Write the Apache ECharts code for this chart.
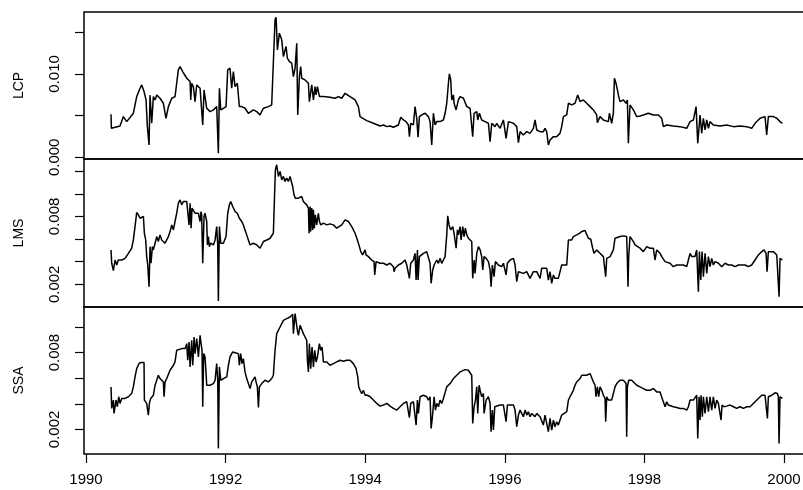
<!DOCTYPE html>
<html>
<head>
<meta charset="utf-8">
<script src="https://cdn.jsdelivr.net/npm/echarts@6/dist/echarts.min.js"></script>
<style>
  html, body { margin: 0; padding: 0; background: #fff; overflow: hidden; }
  /* drawing surface is wider than the page so the frames' right sides fall outside it */
  #chart { width: 830px; height: 490px; }
</style>
</head>
<body>
<div id="chart"></div>
<script>
// Daily volatility estimates, 1990-2000, three estimators: [decimal year, value]
const lcpSeries = [
  [1990.358,0.00516],[1990.363,0.00348],[1990.487,0.00376],[1990.535,0.00488],[1990.583,0.00428],
  [1990.678,0.00528],[1990.726,0.00728],[1990.774,0.00828],[1990.798,0.00868],[1990.831,0.00788],
  [1990.860,0.00688],[1990.879,0.00368],[1990.903,0.00148],[1990.917,0.00748],[1990.941,0.00408],
  [1990.965,0.00728],[1990.989,0.00688],[1991.013,0.00748],[1991.060,0.00708],[1991.108,0.00648],
  [1991.146,0.00468],[1991.180,0.00608],[1991.228,0.00708],[1991.275,0.00728],[1991.299,0.00888],
  [1991.323,0.01048],[1991.347,0.01088],[1991.385,0.01028],[1991.443,0.00948],[1991.491,0.00908],
  [1991.500,0.00688],[1991.514,0.00888],[1991.538,0.00848],[1991.562,0.00668],[1991.586,0.00868],
  [1991.634,0.00828],[1991.657,0.00848],[1991.672,0.00388],[1991.691,0.00808],[1991.729,0.00588],
  [1991.777,0.00548],[1991.825,0.00568],[1991.872,0.00608],[1991.896,0.00048],[1991.911,0.00828],
  [1991.930,0.00568],[1991.968,0.00588],[1992.006,0.00608],[1992.030,0.01048],[1992.063,0.01068],
  [1992.087,0.00828],[1992.111,0.01028],[1992.135,0.00848],[1992.159,0.00868],[1992.168,0.00888],
  [1992.197,0.00608],[1992.231,0.00608],[1992.278,0.00588],[1992.326,0.00528],[1992.398,0.00568],
  [1992.446,0.00548],[1992.493,0.00508],[1992.541,0.00588],[1992.613,0.00608],[1992.660,0.00628],
  [1992.684,0.00648],[1992.708,0.01648],[1992.723,0.01680],[1992.742,0.01288],[1992.770,0.01488],
  [1992.804,0.01408],[1992.828,0.01208],[1992.866,0.01328],[1992.885,0.01188],[1992.914,0.01148],
  [1992.947,0.01128],[1992.971,0.00968],[1992.995,0.01068],[1993.019,0.01368],[1993.033,0.00508],
  [1993.057,0.00968],[1993.076,0.01088],[1993.090,0.00948],[1993.138,0.00928],[1993.186,0.00888],
  [1993.200,0.00668],[1993.234,0.00868],[1993.258,0.00688],[1993.281,0.00848],[1993.296,0.00748],
  [1993.315,0.00848],[1993.344,0.00728],[1993.401,0.00728],[1993.496,0.00720],[1993.568,0.00708],
  [1993.616,0.00728],[1993.664,0.00708],[1993.711,0.00768],[1993.783,0.00728],[1993.855,0.00688],
  [1993.902,0.00608],[1993.926,0.00488],[1993.950,0.00468],[1994.022,0.00440],[1994.117,0.00408],
  [1994.213,0.00376],[1994.261,0.00388],[1994.308,0.00368],[1994.356,0.00376],[1994.404,0.00360],
  [1994.475,0.00388],[1994.509,0.00480],[1994.547,0.00448],[1994.585,0.00428],[1994.619,0.00388],
  [1994.633,0.00248],[1994.652,0.00408],[1994.690,0.00388],[1994.714,0.00608],[1994.738,0.00468],
  [1994.757,0.00240],[1994.776,0.00488],[1994.810,0.00508],[1994.858,0.00528],[1994.905,0.00488],
  [1994.929,0.00428],[1994.953,0.00148],[1994.977,0.00528],[1995.001,0.00388],[1995.025,0.00428],
  [1995.072,0.00428],[1995.120,0.00448],[1995.144,0.00528],[1995.168,0.00648],[1995.192,0.00888],
  [1995.206,0.01000],[1995.225,0.00928],[1995.240,0.00688],[1995.264,0.00748],[1995.273,0.00648],
  [1995.302,0.00568],[1995.335,0.00688],[1995.359,0.00728],[1995.407,0.00708],[1995.431,0.00688],
  [1995.455,0.00608],[1995.502,0.00588],[1995.526,0.00568],[1995.540,0.00248],[1995.560,0.00528],
  [1995.598,0.00548],[1995.612,0.00448],[1995.636,0.00528],[1995.669,0.00448],[1995.717,0.00428],
  [1995.765,0.00408],[1995.789,0.00188],[1995.813,0.00408],[1995.837,0.00388],[1995.860,0.00368],
  [1995.884,0.00408],[1995.932,0.00348],[1995.980,0.00448],[1996.018,0.00228],[1996.052,0.00428],
  [1996.123,0.00408],[1996.171,0.00368],[1996.195,0.00176],[1996.219,0.00308],[1996.266,0.00268],
  [1996.314,0.00308],[1996.361,0.00288],[1996.409,0.00348],[1996.433,0.00448],[1996.457,0.00328],
  [1996.505,0.00308],[1996.552,0.00308],[1996.576,0.00348],[1996.600,0.00308],[1996.624,0.00148],
  [1996.648,0.00208],[1996.696,0.00248],[1996.743,0.00248],[1996.791,0.00288],[1996.815,0.00368],
  [1996.839,0.00488],[1996.887,0.00508],[1996.911,0.00648],[1996.958,0.00628],[1997.006,0.00648],
  [1997.044,0.00748],[1997.078,0.00668],[1997.125,0.00688],[1997.173,0.00648],[1997.221,0.00608],
  [1997.269,0.00568],[1997.316,0.00508],[1997.326,0.00416],[1997.364,0.00488],[1997.412,0.00448],
  [1997.484,0.00428],[1997.498,0.00528],[1997.531,0.00408],[1997.555,0.00528],[1997.570,0.00948],
  [1997.593,0.00888],[1997.613,0.00808],[1997.632,0.00728],[1997.651,0.00668],[1997.699,0.00688],
  [1997.737,0.00648],[1997.756,0.00688],[1997.770,0.00168],[1997.794,0.00628],[1997.842,0.00568],
  [1997.890,0.00488],[1997.937,0.00496],[1997.985,0.00508],[1998.057,0.00528],[1998.128,0.00508],
  [1998.200,0.00508],[1998.248,0.00468],[1998.272,0.00368],[1998.319,0.00388],[1998.415,0.00376],
  [1998.510,0.00368],[1998.606,0.00348],[1998.654,0.00428],[1998.702,0.00448],[1998.740,0.00608],
  [1998.764,0.00168],[1998.797,0.00508],[1998.821,0.00288],[1998.845,0.00468],[1998.869,0.00328],
  [1998.893,0.00448],[1998.917,0.00348],[1998.940,0.00428],[1998.988,0.00388],[1999.084,0.00376],
  [1999.179,0.00388],[1999.275,0.00368],[1999.370,0.00376],[1999.466,0.00368],[1999.537,0.00348],
  [1999.585,0.00408],[1999.657,0.00468],[1999.728,0.00488],[1999.752,0.00268],[1999.776,0.00488],
  [1999.800,0.00508],[1999.848,0.00488],[1999.896,0.00468],[1999.943,0.00428],[1999.977,0.00408]
];

const lmsSeries = [
  [1990.358,0.00504],[1990.368,0.00386],[1990.392,0.00321],[1990.416,0.00415],[1990.440,0.00371],
  [1990.463,0.00415],[1990.511,0.00415],[1990.559,0.00430],[1990.607,0.00474],[1990.654,0.00519],
  [1990.678,0.00592],[1990.702,0.00710],[1990.726,0.00834],[1990.750,0.00814],[1990.774,0.00784],
  [1990.798,0.00799],[1990.822,0.00799],[1990.836,0.00651],[1990.855,0.00592],[1990.869,0.00445],
  [1990.884,0.00371],[1990.903,0.00179],[1990.917,0.00533],[1990.931,0.00386],[1990.951,0.00533],
  [1990.965,0.00504],[1990.989,0.00563],[1991.013,0.00622],[1991.036,0.00578],[1991.060,0.00637],
  [1991.084,0.00592],[1991.108,0.00607],[1991.132,0.00563],[1991.156,0.00592],[1991.180,0.00622],
  [1991.204,0.00666],[1991.228,0.00725],[1991.252,0.00681],[1991.275,0.00755],[1991.299,0.00828],
  [1991.323,0.00917],[1991.347,0.00946],[1991.371,0.00902],[1991.395,0.00932],[1991.419,0.00917],
  [1991.443,0.00932],[1991.467,0.00917],[1991.476,0.00725],[1991.491,0.00917],[1991.505,0.00696],
  [1991.519,0.00873],[1991.538,0.00858],[1991.562,0.00828],[1991.586,0.00843],[1991.610,0.00828],
  [1991.634,0.00755],[1991.648,0.00843],[1991.657,0.00814],[1991.672,0.00386],[1991.691,0.00799],
  [1991.705,0.00828],[1991.729,0.00755],[1991.739,0.00548],[1991.753,0.00622],[1991.767,0.00533],
  [1991.786,0.00563],[1991.825,0.00548],[1991.849,0.00592],[1991.872,0.00710],[1991.887,0.00548],
  [1991.896,0.00052],[1991.911,0.00710],[1991.930,0.00563],[1991.968,0.00563],[1992.006,0.00622],
  [1992.030,0.00828],[1992.054,0.00902],[1992.073,0.00932],[1992.102,0.00887],[1992.135,0.00843],
  [1992.168,0.00828],[1992.197,0.00784],[1992.231,0.00755],[1992.254,0.00725],[1992.278,0.00681],
  [1992.302,0.00637],[1992.326,0.00592],[1992.350,0.00548],[1992.374,0.00533],[1992.398,0.00563],
  [1992.446,0.00548],[1992.493,0.00519],[1992.541,0.00578],[1992.589,0.00592],[1992.637,0.00607],
  [1992.684,0.00651],[1992.699,0.00946],[1992.713,0.01212],[1992.732,0.01256],[1992.756,0.01153],
  [1992.780,0.01197],[1992.804,0.01123],[1992.828,0.01153],[1992.851,0.01109],[1992.875,0.01138],
  [1992.899,0.01109],[1992.923,0.01153],[1992.947,0.01168],[1992.961,0.01064],[1992.980,0.00991],
  [1992.999,0.00961],[1993.019,0.00946],[1993.043,0.00961],[1993.067,0.00946],[1993.090,0.00976],
  [1993.114,0.00932],[1993.138,0.00917],[1993.162,0.00902],[1993.186,0.00873],[1993.196,0.00651],
  [1993.210,0.00887],[1993.219,0.00666],[1993.234,0.00873],[1993.248,0.00681],[1993.258,0.00858],
  [1993.272,0.00696],[1993.286,0.00814],[1993.305,0.00725],[1993.329,0.00828],[1993.344,0.00755],
  [1993.363,0.00725],[1993.401,0.00740],[1993.449,0.00725],[1993.496,0.00734],[1993.544,0.00725],
  [1993.592,0.00696],[1993.616,0.00710],[1993.664,0.00725],[1993.711,0.00769],[1993.759,0.00755],
  [1993.807,0.00710],[1993.855,0.00651],[1993.888,0.00592],[1993.917,0.00533],[1993.936,0.00489],
  [1993.964,0.00460],[1993.998,0.00504],[1994.012,0.00460],[1994.046,0.00445],[1994.093,0.00415],
  [1994.127,0.00401],[1994.136,0.00283],[1994.156,0.00401],[1994.213,0.00386],[1994.237,0.00401],
  [1994.261,0.00386],[1994.308,0.00371],[1994.356,0.00386],[1994.404,0.00356],[1994.413,0.00312],
  [1994.428,0.00342],[1994.475,0.00371],[1994.523,0.00386],[1994.571,0.00415],[1994.595,0.00371],
  [1994.619,0.00356],[1994.633,0.00253],[1994.652,0.00386],[1994.690,0.00415],[1994.714,0.00474],
  [1994.729,0.00238],[1994.748,0.00504],[1994.757,0.00238],[1994.776,0.00445],[1994.796,0.00430],
  [1994.834,0.00474],[1994.881,0.00489],[1994.905,0.00489],[1994.929,0.00386],[1994.944,0.00209],
  [1994.967,0.00327],[1994.987,0.00371],[1995.006,0.00356],[1995.025,0.00415],[1995.049,0.00386],
  [1995.072,0.00430],[1995.096,0.00386],[1995.120,0.00415],[1995.144,0.00445],[1995.168,0.00637],
  [1995.182,0.00805],[1995.201,0.00725],[1995.225,0.00681],[1995.254,0.00710],[1995.273,0.00651],
  [1995.302,0.00519],[1995.321,0.00681],[1995.335,0.00637],[1995.359,0.00710],[1995.373,0.00592],
  [1995.397,0.00710],[1995.416,0.00622],[1995.435,0.00696],[1995.455,0.00637],[1995.478,0.00607],
  [1995.502,0.00592],[1995.526,0.00578],[1995.540,0.00253],[1995.560,0.00415],[1995.574,0.00297],
  [1995.598,0.00474],[1995.622,0.00533],[1995.646,0.00504],[1995.669,0.00445],[1995.684,0.00327],
  [1995.703,0.00445],[1995.732,0.00430],[1995.765,0.00401],[1995.789,0.00327],[1995.803,0.00179],
  [1995.822,0.00371],[1995.846,0.00268],[1995.865,0.00401],[1995.908,0.00371],[1995.956,0.00356],
  [1995.980,0.00386],[1996.004,0.00401],[1996.018,0.00283],[1996.037,0.00386],[1996.076,0.00415],
  [1996.123,0.00430],[1996.147,0.00371],[1996.171,0.00224],[1996.195,0.00312],[1996.219,0.00327],
  [1996.266,0.00297],[1996.314,0.00312],[1996.361,0.00253],[1996.409,0.00312],[1996.457,0.00312],
  [1996.505,0.00253],[1996.528,0.00342],[1996.552,0.00327],[1996.600,0.00342],[1996.624,0.00238],
  [1996.648,0.00312],[1996.672,0.00209],[1996.696,0.00283],[1996.719,0.00253],[1996.767,0.00253],
  [1996.791,0.00238],[1996.815,0.00371],[1996.839,0.00371],[1996.887,0.00371],[1996.911,0.00592],
  [1996.934,0.00607],[1996.958,0.00592],[1996.982,0.00622],[1997.030,0.00637],[1997.068,0.00651],
  [1997.102,0.00666],[1997.149,0.00675],[1997.173,0.00675],[1997.197,0.00607],[1997.231,0.00598],
  [1997.259,0.00519],[1997.278,0.00474],[1997.316,0.00504],[1997.364,0.00474],[1997.412,0.00445],
  [1997.436,0.00430],[1997.445,0.00268],[1997.460,0.00430],[1997.508,0.00445],[1997.531,0.00445],
  [1997.555,0.00504],[1997.579,0.00607],[1997.603,0.00616],[1997.651,0.00622],[1997.699,0.00628],
  [1997.746,0.00622],[1997.756,0.00415],[1997.765,0.00179],[1997.775,0.00445],[1997.794,0.00622],
  [1997.808,0.00637],[1997.842,0.00578],[1997.866,0.00548],[1997.890,0.00533],[1997.937,0.00519],
  [1997.985,0.00489],[1998.033,0.00533],[1998.057,0.00548],[1998.081,0.00519],[1998.104,0.00504],
  [1998.128,0.00519],[1998.152,0.00415],[1998.176,0.00504],[1998.200,0.00489],[1998.224,0.00474],
  [1998.248,0.00445],[1998.272,0.00460],[1998.296,0.00401],[1998.319,0.00386],[1998.367,0.00386],
  [1998.415,0.00356],[1998.463,0.00371],[1998.510,0.00371],[1998.558,0.00371],[1998.606,0.00356],
  [1998.630,0.00415],[1998.654,0.00474],[1998.678,0.00445],[1998.725,0.00445],[1998.749,0.00504],
  [1998.773,0.00135],[1998.788,0.00489],[1998.807,0.00238],[1998.826,0.00489],[1998.845,0.00268],
  [1998.869,0.00474],[1998.893,0.00297],[1998.917,0.00445],[1998.940,0.00356],[1998.964,0.00430],
  [1998.988,0.00371],[1999.012,0.00401],[1999.060,0.00386],[1999.108,0.00356],[1999.155,0.00386],
  [1999.203,0.00371],[1999.251,0.00371],[1999.299,0.00356],[1999.346,0.00371],[1999.394,0.00371],
  [1999.442,0.00371],[1999.490,0.00356],[1999.537,0.00371],[1999.585,0.00415],[1999.633,0.00460],
  [1999.681,0.00489],[1999.714,0.00504],[1999.743,0.00474],[1999.757,0.00312],[1999.776,0.00489],
  [1999.800,0.00504],[1999.848,0.00489],[1999.896,0.00460],[1999.919,0.00445],[1999.929,0.00091],
  [1999.943,0.00430],[1999.977,0.00415]
];

const ssaSeries = [
  [1990.358,0.00532],[1990.368,0.00364],[1990.392,0.00429],[1990.401,0.00325],[1990.430,0.00429],
  [1990.449,0.00377],[1990.468,0.00455],[1990.487,0.00403],[1990.511,0.00442],[1990.535,0.00455],
  [1990.559,0.00442],[1990.607,0.00455],[1990.654,0.00480],[1990.678,0.00532],[1990.702,0.00610],
  [1990.726,0.00675],[1990.764,0.00719],[1990.798,0.00722],[1990.831,0.00722],[1990.836,0.00429],
  [1990.855,0.00429],[1990.869,0.00403],[1990.893,0.00312],[1990.908,0.00403],[1990.927,0.00442],
  [1990.946,0.00455],[1990.965,0.00467],[1990.989,0.00545],[1991.013,0.00584],[1991.036,0.00623],
  [1991.060,0.00597],[1991.084,0.00584],[1991.108,0.00571],[1991.118,0.00455],[1991.132,0.00571],
  [1991.156,0.00597],[1991.204,0.00662],[1991.252,0.00701],[1991.275,0.00727],[1991.299,0.00818],
  [1991.323,0.00831],[1991.371,0.00831],[1991.395,0.00844],[1991.419,0.00831],[1991.443,0.00870],
  [1991.457,0.00740],[1991.476,0.00883],[1991.491,0.00688],[1991.514,0.00896],[1991.529,0.00701],
  [1991.548,0.00922],[1991.562,0.00792],[1991.586,0.00909],[1991.610,0.00766],[1991.634,0.00935],
  [1991.648,0.00870],[1991.662,0.00818],[1991.672,0.00377],[1991.686,0.00792],[1991.705,0.00766],
  [1991.720,0.00636],[1991.729,0.00545],[1991.753,0.00532],[1991.777,0.00545],[1991.825,0.00558],
  [1991.849,0.00584],[1991.872,0.00714],[1991.887,0.00584],[1991.896,0.00052],[1991.911,0.00688],
  [1991.930,0.00584],[1991.968,0.00597],[1992.016,0.00610],[1992.040,0.00701],[1992.063,0.00766],
  [1992.102,0.00805],[1992.149,0.00797],[1992.183,0.00792],[1992.197,0.00701],[1992.216,0.00792],
  [1992.235,0.00714],[1992.254,0.00753],[1992.278,0.00649],[1992.302,0.00597],[1992.326,0.00584],
  [1992.350,0.00519],[1992.374,0.00571],[1992.398,0.00584],[1992.422,0.00610],[1992.436,0.00571],
  [1992.455,0.00532],[1992.470,0.00371],[1992.484,0.00532],[1992.517,0.00558],[1992.565,0.00584],
  [1992.613,0.00571],[1992.660,0.00597],[1992.684,0.00623],[1992.708,0.00818],[1992.732,0.00948],
  [1992.780,0.01000],[1992.828,0.01052],[1992.875,0.01065],[1992.923,0.01078],[1992.961,0.01099],
  [1992.971,0.00948],[1992.995,0.01104],[1993.009,0.01117],[1993.028,0.00974],[1993.043,0.00935],
  [1993.067,0.01013],[1993.090,0.01026],[1993.114,0.00948],[1993.138,0.00922],[1993.162,0.00896],
  [1993.172,0.00740],[1993.186,0.00649],[1993.200,0.00870],[1993.219,0.00675],[1993.238,0.00844],
  [1993.258,0.00688],[1993.277,0.00818],[1993.296,0.00727],[1993.315,0.00766],[1993.344,0.00870],
  [1993.363,0.00818],[1993.382,0.00844],[1993.401,0.00727],[1993.449,0.00727],[1993.496,0.00701],
  [1993.544,0.00714],[1993.592,0.00727],[1993.640,0.00740],[1993.687,0.00732],[1993.735,0.00740],
  [1993.783,0.00740],[1993.831,0.00714],[1993.869,0.00675],[1993.893,0.00610],[1993.907,0.00532],
  [1993.926,0.00506],[1993.950,0.00480],[1993.974,0.00506],[1993.998,0.00467],[1994.031,0.00467],
  [1994.070,0.00455],[1994.117,0.00429],[1994.165,0.00403],[1994.213,0.00382],[1994.261,0.00390],
  [1994.308,0.00403],[1994.356,0.00382],[1994.404,0.00364],[1994.452,0.00351],[1994.499,0.00377],
  [1994.547,0.00403],[1994.595,0.00416],[1994.619,0.00403],[1994.633,0.00293],[1994.652,0.00403],
  [1994.690,0.00416],[1994.714,0.00429],[1994.729,0.00234],[1994.748,0.00429],[1994.762,0.00325],
  [1994.786,0.00455],[1994.834,0.00467],[1994.881,0.00455],[1994.905,0.00429],[1994.929,0.00455],
  [1994.944,0.00208],[1994.963,0.00299],[1994.987,0.00455],[1995.006,0.00351],[1995.025,0.00403],
  [1995.049,0.00377],[1995.072,0.00429],[1995.096,0.00403],[1995.120,0.00442],[1995.144,0.00429],
  [1995.168,0.00532],[1995.192,0.00545],[1995.216,0.00558],[1995.264,0.00597],[1995.287,0.00584],
  [1995.311,0.00623],[1995.359,0.00649],[1995.383,0.00662],[1995.431,0.00667],[1995.478,0.00662],
  [1995.502,0.00649],[1995.526,0.00623],[1995.540,0.00247],[1995.560,0.00377],[1995.579,0.00429],
  [1995.598,0.00532],[1995.612,0.00325],[1995.631,0.00545],[1995.646,0.00506],[1995.669,0.00455],
  [1995.693,0.00480],[1995.703,0.00325],[1995.732,0.00429],[1995.765,0.00455],[1995.789,0.00403],
  [1995.803,0.00182],[1995.822,0.00351],[1995.837,0.00195],[1995.856,0.00377],[1995.884,0.00390],
  [1995.932,0.00390],[1995.956,0.00377],[1995.980,0.00390],[1996.004,0.00377],[1996.018,0.00260],
  [1996.037,0.00390],[1996.076,0.00390],[1996.123,0.00390],[1996.147,0.00351],[1996.171,0.00221],
  [1996.195,0.00312],[1996.219,0.00351],[1996.266,0.00299],[1996.290,0.00351],[1996.314,0.00312],
  [1996.337,0.00338],[1996.361,0.00299],[1996.385,0.00325],[1996.409,0.00312],[1996.433,0.00299],
  [1996.457,0.00325],[1996.481,0.00312],[1996.505,0.00299],[1996.528,0.00312],[1996.552,0.00234],
  [1996.576,0.00312],[1996.600,0.00325],[1996.624,0.00182],[1996.648,0.00286],[1996.672,0.00195],
  [1996.696,0.00273],[1996.719,0.00221],[1996.743,0.00260],[1996.767,0.00234],[1996.791,0.00273],
  [1996.815,0.00312],[1996.839,0.00325],[1996.887,0.00338],[1996.911,0.00429],[1996.934,0.00455],
  [1996.958,0.00480],[1996.982,0.00506],[1997.006,0.00545],[1997.030,0.00571],[1997.054,0.00584],
  [1997.078,0.00597],[1997.102,0.00623],[1997.125,0.00631],[1997.173,0.00623],[1997.221,0.00636],
  [1997.245,0.00631],[1997.269,0.00571],[1997.293,0.00545],[1997.307,0.00455],[1997.326,0.00532],
  [1997.345,0.00455],[1997.364,0.00532],[1997.388,0.00506],[1997.412,0.00467],[1997.436,0.00442],
  [1997.445,0.00260],[1997.460,0.00455],[1997.484,0.00429],[1997.508,0.00442],[1997.531,0.00429],
  [1997.555,0.00480],[1997.579,0.00532],[1997.603,0.00558],[1997.627,0.00571],[1997.651,0.00584],
  [1997.675,0.00571],[1997.699,0.00584],[1997.722,0.00571],[1997.737,0.00558],[1997.746,0.00143],
  [1997.756,0.00532],[1997.775,0.00584],[1997.794,0.00597],[1997.818,0.00584],[1997.842,0.00571],
  [1997.890,0.00545],[1997.937,0.00532],[1997.985,0.00519],[1998.033,0.00506],[1998.081,0.00506],
  [1998.128,0.00519],[1998.176,0.00493],[1998.224,0.00493],[1998.248,0.00480],[1998.262,0.00429],
  [1998.281,0.00442],[1998.296,0.00377],[1998.319,0.00416],[1998.343,0.00390],[1998.367,0.00377],
  [1998.415,0.00377],[1998.463,0.00371],[1998.510,0.00364],[1998.558,0.00364],[1998.606,0.00351],
  [1998.630,0.00377],[1998.654,0.00429],[1998.702,0.00429],[1998.725,0.00442],[1998.749,0.00467],
  [1998.764,0.00130],[1998.783,0.00455],[1998.797,0.00273],[1998.811,0.00467],[1998.830,0.00299],
  [1998.845,0.00455],[1998.869,0.00325],[1998.893,0.00455],[1998.917,0.00338],[1998.940,0.00455],
  [1998.964,0.00351],[1998.988,0.00455],[1999.012,0.00364],[1999.036,0.00429],[1999.060,0.00403],
  [1999.084,0.00390],[1999.098,0.00273],[1999.112,0.00390],[1999.141,0.00377],[1999.179,0.00382],
  [1999.227,0.00390],[1999.275,0.00377],[1999.322,0.00364],[1999.370,0.00377],[1999.418,0.00364],
  [1999.466,0.00377],[1999.514,0.00377],[1999.537,0.00390],[1999.585,0.00416],[1999.633,0.00442],
  [1999.681,0.00467],[1999.728,0.00467],[1999.752,0.00455],[1999.762,0.00286],[1999.776,0.00455],
  [1999.824,0.00467],[1999.872,0.00486],[1999.905,0.00480],[1999.919,0.00455],[1999.929,0.00091],
  [1999.943,0.00455],[1999.977,0.00442]
];

// Axis tick positions and which of them carry a label
const yearTicks = [1990, 1992, 1994, 1996, 1998, 2000];
const lcpTicks = [0, 0.005, 0.010, 0.015];
const lcpLabels = [0, 0.010];
const lmsTicks = [0.002, 0.004, 0.006, 0.008, 0.010, 0.012];
const lmsLabels = [0.002, 0.008];
const ssaTicks = [0.002, 0.004, 0.006, 0.008, 0.010];
const ssaLabels = [0.002, 0.008];
const panelNames = ['LCP', 'LMS', 'SSA'];

const FONT = '"Liberation Sans", Arial, Helvetica, sans-serif';
// Plot frames are 725 px wide (about 69.8 px per year)
const X_MIN = 1989.971, X_MAX = 2000.358;
const INK = '#000';
const FRAME_W = 1.5;

const chart = echarts.init(document.getElementById('chart'), null, { renderer: 'canvas' });

const panels = [
  { top: 12,  height: 147, min: -0.0002, max: 0.01742, ticks: lcpTicks, labels: lcpLabels, data: lcpSeries },
  { top: 159, height: 148, min: 0.0,     max: 0.01307, ticks: lmsTicks, labels: lmsLabels, data: lmsSeries },
  { top: 307, height: 147, min: 0.00008, max: 0.01156, ticks: ssaTicks, labels: ssaLabels, data: ssaSeries }
];

const grid = panels.map(p => ({
  left: 84, top: p.top, width: 725, height: p.height,
  outerBoundsMode: 'none', containLabel: false,
  show: true, borderColor: INK, borderWidth: FRAME_W, backgroundColor: 'transparent'
}));

const last = panels.length - 1;
const xAxis = panels.map((p, i) => {
  const bottom = i === last;
  return {
    type: 'value', gridIndex: i, position: 'bottom', min: X_MIN, max: X_MAX,
    splitLine: { show: false },
    axisLine: { show: false },
    axisTick: { show: bottom, customValues: yearTicks, length: 9, lineStyle: { color: INK, width: 1.2 } },
    axisLabel: {
      show: bottom, customValues: yearTicks, margin: 18,
      color: INK, fontSize: 15, fontFamily: FONT,
      formatter: v => String(Math.round(v))
    }
  };
});

const yAxis = panels.map((p, i) => ({
  type: 'value', gridIndex: i, position: 'left', min: p.min, max: p.max,
  name: panelNames[i], nameLocation: 'middle', nameRotate: 90, nameGap: 58,
  nameTextStyle: { color: INK, fontSize: 14, fontFamily: FONT },
  splitLine: { show: false },
  axisLine: { show: false },
  axisTick: { show: true, customValues: p.ticks, length: 9, lineStyle: { color: INK, width: 1.2 } },
  axisLabel: {
    show: true, customValues: p.labels, rotate: 90, margin: 22,
    color: INK, fontSize: 15, fontFamily: FONT,
    formatter: v => v.toFixed(3)
  }
}));

const series = panels.map((p, i) => ({
  type: 'line', xAxisIndex: i, yAxisIndex: i,
  data: p.data, showSymbol: false, symbol: 'none',
  lineStyle: { color: INK, width: 1.5 },
  animation: false, silent: true
}));

chart.setOption({
  backgroundColor: '#fff',
  animation: false,
  grid, xAxis, yAxis, series
});
</script>
</body>
</html>
